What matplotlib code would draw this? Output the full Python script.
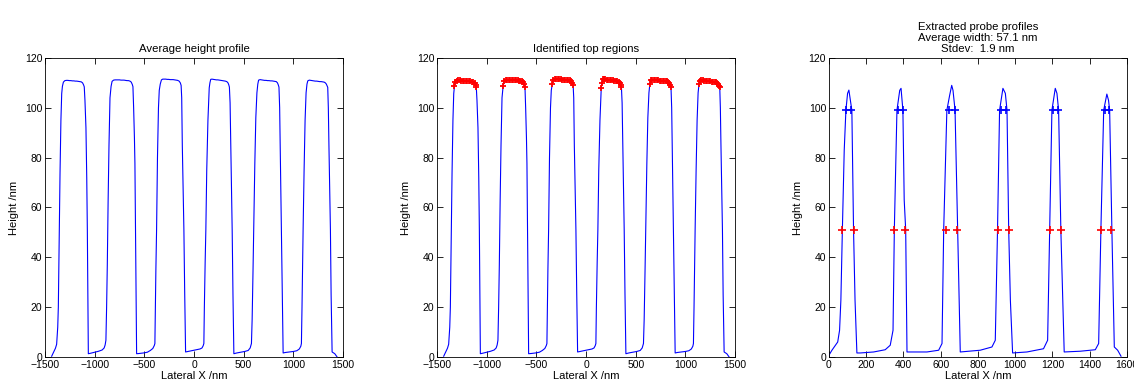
import numpy as np
import matplotlib.pyplot as plt

plt.rcParams['font.family'] = ['Liberation Sans', 'DejaVu Sans']
plt.rcParams['font.size'] = 7.5

# Average height profile (lateral position in nm, height in nm)
profile_x = [
    -1433, -1395, -1383, -1372, -1366, -1358, -1349, -1340, -1332,
    -1325, -1315, -1300, -1285, -1270, -1255, -1240, -1225, -1210, -1195, -1180, -1165, -1150, -1135, -1122, -1112, -1105,
    -1098, -1088, -1080, -1074, -1069, -1064,
    -1040, -1000, -960, -925, -905, -895, -887,
    -880, -873, -865, -856, -846,
    -835, -825, -810, -795, -780, -765, -750, -735, -720, -705, -690, -675, -660, -645, -632, -622, -615,
    -608, -600, -595, -589, -584, -578,
    -550, -510, -470, -440, -415, -400, -394,
    -389, -384, -377, -368, -358, -350,
    -340, -328, -315, -300, -285, -270, -255, -240, -225, -210, -195, -180, -165, -150, -138, -130,
    -124, -118, -110, -102, -94, -85,
    -60, -20, 20, 60, 80, 92, 99,
    104, 112, 119, 128, 140, 153,
    160, 168, 180, 195, 210, 225, 240, 255, 270, 285, 300, 315, 330, 342, 350, 356,
    363, 370, 377, 384, 392, 401,
    430, 470, 510, 545, 565, 578,
    585, 594, 604, 612, 622, 633,
    642, 650, 665, 680, 695, 710, 725, 740, 755, 770, 785, 800, 815, 828, 840, 848, 855,
    862, 868, 874, 880, 888, 897,
    920, 960, 1000, 1035, 1060, 1075, 1081,
    1087, 1092, 1098, 1108, 1118, 1128,
    1137, 1145, 1160, 1175, 1190, 1205, 1220, 1235, 1250, 1265, 1280, 1295, 1310, 1322, 1332, 1340, 1346,
    1352, 1358, 1366, 1373, 1380, 1390,
    1405, 1417, 1430, 1440,
]
profile_h = [
    0.3, 3.5, 5.1, 12.0, 20.0, 45.0, 73.6, 95.0, 105.7,
    108.6, 110.3, 110.9, 111.0, 111.0, 110.9, 110.9, 110.8, 110.8, 110.7, 110.7, 110.6, 110.5, 110.4, 110.0, 109.2, 108.4,
    103, 92, 72, 51, 25, 1.3,
    1.5, 1.9, 2.3, 2.8, 3.6, 4.8, 6.7,
    20, 37, 62, 85, 104,
    108.6, 110.6, 111.1, 111.2, 111.2, 111.2, 111.2, 111.1, 111.1, 111.1, 111.0, 110.9, 110.9, 110.7, 110.3, 109.4, 108.5,
    100, 88, 77.6, 51, 25, 1.3,
    1.4, 1.6, 1.9, 2.6, 3.4, 4.6, 5.4,
    20, 35, 51, 80, 100, 107,
    109.5, 111.2, 111.5, 111.5, 111.5, 111.4, 111.4, 111.3, 111.3, 111.3, 111.2, 111.1, 111.0, 110.7, 110.0, 109.0,
    104, 85, 68, 51, 26, 2,
    2.2, 2.5, 2.8, 3.2, 3.6, 4.5, 5.4,
    20, 38, 51, 75, 95, 108,
    110.0, 111.4, 111.5, 111.4, 111.3, 111.2, 111.2, 111.1, 111.0, 110.9, 110.8, 110.7, 110.5, 110.0, 109.2, 108.3,
    102, 85, 68, 51, 25, 1.3,
    1.6, 1.9, 2.2, 2.6, 3.6, 5.4,
    15, 35, 60, 77.6, 96, 106,
    109.5, 111.1, 111.3, 111.2, 111.1, 111.0, 111.0, 110.9, 110.9, 110.8, 110.8, 110.7, 110.6, 110.5, 110.0, 109.2, 108.3,
    100, 83, 67, 51, 25, 1.6,
    1.8, 2.0, 2.2, 2.5, 3.2, 4.3, 5.4,
    20, 35, 51, 75, 95, 106,
    109.5, 110.8, 111.1, 111.0, 110.9, 110.8, 110.7, 110.7, 110.6, 110.5, 110.5, 110.4, 110.3, 110.0, 109.5, 108.8, 108.2,
    100, 85, 68, 51, 25, 2,
    1.6, 1.3, 0.6, 0,
]
top_threshold = 108.0

# Extracted probe profiles
probe_x = [
    0, 16, 47, 57, 64, 72, 82, 91, 100, 107, 115, 123, 132, 140, 150,
    168, 240, 302, 329, 344, 351, 365, 380, 387, 397, 404, 412, 419,
    526, 589, 607, 616, 633, 648, 659, 666, 677, 691, 705,
    812, 875, 893, 905, 916, 934, 947, 956, 965, 974, 986,
    1063, 1152, 1174, 1185, 1197, 1215, 1224, 1233, 1245, 1263,
    1349, 1430, 1448, 1460, 1475, 1492, 1501, 1507, 1519, 1532, 1550, 1568,
]
probe_h = [
    0.7, 2.7, 6, 10.7, 22.8, 50.9, 83, 99, 105.8, 107.1, 103, 99, 51, 22.8, 1.6,
    1.6, 2, 2.9, 4.7, 10.7, 51, 99, 107, 107.8, 99, 63, 51, 2,
    2, 2.7, 5.4, 51, 99, 105, 109, 107, 99, 51, 2,
    2.7, 4, 6.7, 51, 99, 107.8, 105.8, 99, 51, 22.8, 1.6,
    2, 3.3, 6.7, 51, 99, 107.8, 105.8, 99, 51, 2,
    2.3, 2.9, 5.4, 51, 99, 105.5, 103, 99, 51, 4, 2.7, 0.3,
]
upper_x = [91, 118, 369, 396, 646, 675, 924, 951, 1203, 1230, 1480, 1504]
upper_level = 99
mid_x = [72, 132, 349, 410, 628, 689, 906, 965, 1185, 1244, 1458, 1516]
mid_level = 51

titles = ['Average height profile', 'Identified top regions',
          'Extracted probe profiles\nAverage width: 57.1 nm\nStdev:  1.9 nm']

fig = plt.figure(figsize=(11.34, 3.83), dpi=100)
lefts = [0.0397, 0.3854, 0.7310]
axes = [fig.add_axes([l, 0.068, 0.2628, 0.7807]) for l in lefts]

px = np.array(profile_x)
ph = np.array(profile_h)

axes[0].plot(px, ph, color='b', lw=0.8)

axes[1].plot(px, ph, color='b', lw=0.8)
top = ph >= top_threshold
axes[1].plot(px[top], ph[top], '+', color='r', ms=5, mew=1.3)

axes[2].plot(probe_x, probe_h, color='b', lw=0.8)
axes[2].plot(upper_x, [upper_level] * len(upper_x), '+', color='b', ms=6, mew=1.2)
axes[2].plot(mid_x, [mid_level] * len(mid_x), '+', color='r', ms=6, mew=1.2)

for ax, t in zip(axes, titles):
    ax.set_ylim(0, 120)
    ax.set_yticks(range(0, 121, 20))
    ax.set_title(t, fontsize=8.2, pad=4, linespacing=1.15)
    ax.set_ylabel('Height /nm', fontsize=8, labelpad=4)
    ax.set_xlabel('Lateral X /nm', fontsize=8, labelpad=1)
    ax.tick_params(direction='in', top=True, right=True, length=4, width=0.6, pad=2)
    for s in ax.spines.values():
        s.set_linewidth(0.6)

for ax in axes[:2]:
    ax.set_xlim(-1500, 1500)
    ax.set_xticks(range(-1500, 1501, 500))
axes[2].set_xlim(0, 1600)
axes[2].set_xticks(range(0, 1601, 200))

fig.savefig('out.png', dpi=100)
